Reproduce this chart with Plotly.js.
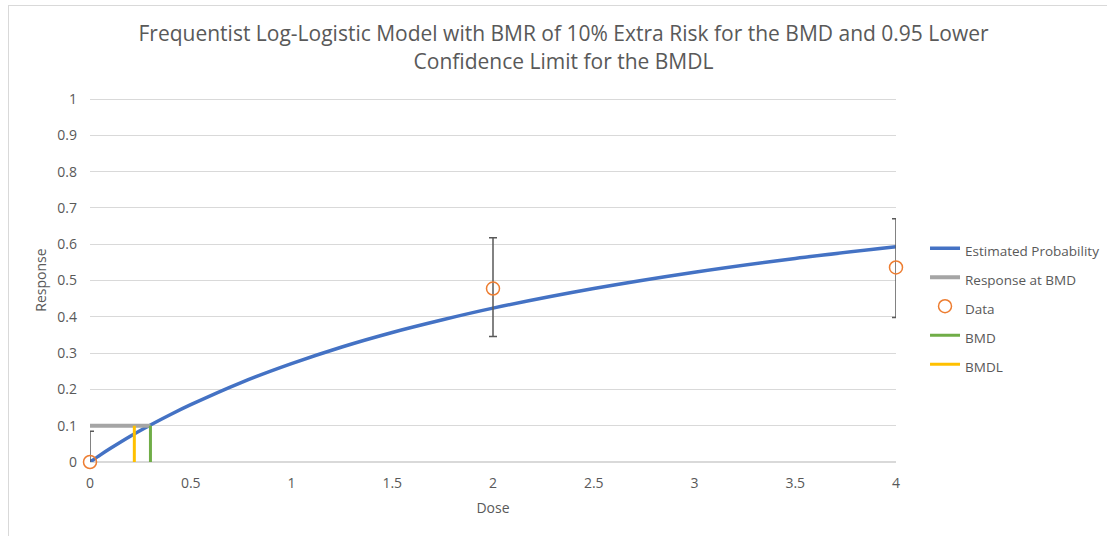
<!DOCTYPE html>
<html>
<head>
<meta charset="utf-8">
<script src="https://cdn.plot.ly/plotly-3.0.1.min.js"></script>
<style>
  html, body { margin: 0; padding: 0; background: #fff; }
  #wrap { position: relative; width: 1107px; height: 536px; }
  #chart { width: 1107px; height: 536px; }
  #frame { position: absolute; left: 8px; top: 5px; width: 1200px; height: 600px;
           border-left: 1.5px solid #D9D9D9; border-top: 1.5px solid #D9D9D9; pointer-events: none; }
</style>
</head>
<body>
<div id="wrap">
  <div id="chart"></div>
  <div id="frame"></div>
</div>
<script>
// Estimated probability curve
const curveDose = [0, 0.05, 0.1, 0.2, 0.3, 0.4, 0.5, 0.75, 1, 1.25, 1.5, 1.75, 2, 2.5, 3, 3.5, 4];
const curveProb = [0, 0.019, 0.037, 0.071, 0.102, 0.131, 0.158, 0.219, 0.271, 0.317, 0.357, 0.392, 0.424, 0.478, 0.523, 0.561, 0.593];

// Observed data with confidence limits
const dataDose = [0, 2, 4];
const dataResp = [0, 0.478, 0.536];
const errUpper = [0.085, 0.140, 0.134];
const errLower = [0.05, 0.132, 0.138];

// BMD / BMDL reference lines
const bmr = 0.1;
const bmd = 0.30;
const bmdl = 0.22;
const respAtBmdX = [0, bmd];
const respAtBmdY = [bmr, bmr];
const bmdX = [bmd, bmd];
const bmdY = [0, bmr];
const bmdlX = [bmdl, bmdl];
const bmdlY = [0, bmr];

const xTicks = [0, 0.5, 1, 1.5, 2, 2.5, 3, 3.5, 4];
const xTickText = ['0', '0.5', '1', '1.5', '2', '2.5', '3', '3.5', '4'];
const yTicks = [0, 0.1, 0.2, 0.3, 0.4, 0.5, 0.6, 0.7, 0.8, 0.9, 1];
const yTickText = ['0', '0.1', '0.2', '0.3', '0.4', '0.5', '0.6', '0.7', '0.8', '0.9', '1'];

const FONT = 'Open Sans, Noto Sans, sans-serif';
const TXT = '#595959';
const lg = s => '<span style="font-size:13.5px">' + s + '</span>';

const traces = [
  { x: curveDose, y: curveProb, mode: 'lines', name: lg('Estimated Probability'),
    line: { color: '#4472C4', width: 3.5, shape: 'spline', smoothing: 0.8 } },
  { x: respAtBmdX, y: respAtBmdY, mode: 'lines', name: lg('Response at BMD'),
    line: { color: '#A5A5A5', width: 4 } },
  // error bars (clipped to the plot area)
  { x: dataDose, y: dataResp, mode: 'markers', showlegend: false, hoverinfo: 'skip',
    marker: { size: 1, color: 'rgba(0,0,0,0)' },
    error_y: { type: 'data', symmetric: false, array: errUpper, arrayminus: errLower,
               color: '#595959', thickness: 1.5, width: 4 } },
  { x: dataDose, y: dataResp, mode: 'markers', name: lg('Data'), cliponaxis: false,
    marker: { symbol: 'circle-open', size: 13, color: '#ED7D31', line: { width: 1.5, color: '#ED7D31' } } },
  { x: bmdX, y: bmdY, mode: 'lines', name: lg('BMD'),
    line: { color: '#70AD47', width: 3 } },
  { x: bmdlX, y: bmdlY, mode: 'lines', name: lg('BMDL'),
    line: { color: '#FFC000', width: 3 } }
];

const layout = {
  width: 1107, height: 536,
  margin: { l: 90, r: 211, t: 98, b: 74, autoexpand: false },
  paper_bgcolor: '#ffffff', plot_bgcolor: '#ffffff',
  font: { family: FONT, color: TXT, size: 14 },
  title: {
    text: 'Frequentist Log-Logistic Model with BMR of 10% Extra Risk for the BMD and 0.95 Lower<br>Confidence Limit for the BMDL',
    font: { family: FONT, size: 21, color: TXT },
    x: 0.5875, xref: 'paper', xanchor: 'center',
    y: 0.923, yref: 'container', yanchor: 'middle'
  },
  xaxis: {
    range: [0, 4], tickvals: xTicks, ticktext: xTickText,
    showgrid: false, zeroline: false, showline: false, automargin: false,
    ticks: '', ticklabelstandoff: 11,
    tickfont: { family: FONT, size: 14, color: TXT },
    title: { text: 'Dose', font: { family: FONT, size: 14, color: TXT }, standoff: 12 }
  },
  yaxis: {
    range: [0, 1.003], tickvals: yTicks, ticktext: yTickText,
    showgrid: true, gridcolor: '#D9D9D9', gridwidth: 1, automargin: false,
    zeroline: true, zerolinecolor: '#D9D9D9', zerolinewidth: 1.2,
    showline: false, ticks: '', ticklabelstandoff: 12,
    tickfont: { family: FONT, size: 14, color: TXT },
    title: { text: 'Response', font: { family: FONT, size: 14, color: TXT }, standoff: 7 }
  },
  showlegend: true,
  legend: {
    x: 1.036, xanchor: 'left', y: 0.428, yanchor: 'middle',
    font: { family: FONT, size: 20, color: TXT },
    bgcolor: 'rgba(0,0,0,0)', tracegroupgap: 0
  }
};

Plotly.newPlot('chart', traces, layout, { displayModeBar: false, staticPlot: true });
</script>
</body>
</html>
